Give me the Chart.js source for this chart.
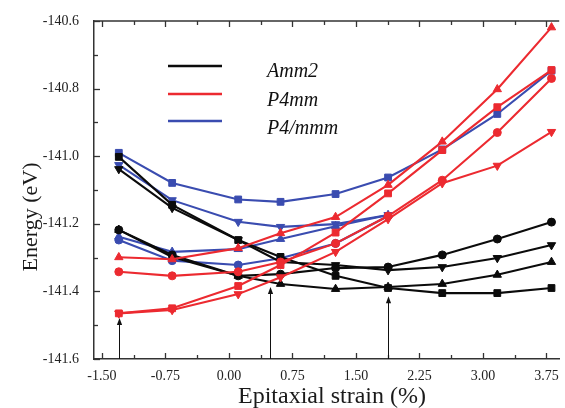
<!DOCTYPE html>
<html>
<head>
<meta charset="utf-8">
<script src="https://cdn.jsdelivr.net/npm/chart.js@4.4.1/dist/chart.umd.min.js"></script>
<style>
html,body{margin:0;padding:0;background:#fff;}
#wrap{width:565px;height:408px;position:relative;}
</style>
</head>
<body>
<div id="wrap"><canvas id="c" width="565" height="408"></canvas></div>
<script>
// ---- data ----
const strain = [-1.30, -0.67, 0.11, 0.61, 1.26, 1.88, 2.52, 3.17, 3.81];

const amm2Square = [-141.002, -141.144, -141.248, -141.298, -141.354, -141.390, -141.405, -141.405, -141.390];
const amm2Circle = [-141.218, -141.292, -141.354, -141.349, -141.331, -141.328, -141.292, -141.245, -141.195];
const amm2Up     = [-141.218, -141.298, -141.354, -141.378, -141.393, -141.387, -141.378, -141.351, -141.313];
const amm2Down   = [-141.038, -141.153, -141.248, -141.313, -141.322, -141.337, -141.328, -141.301, -141.263];

const p4mmSquare = [-141.465, -141.450, -141.384, -141.322, -141.226, -141.110, -140.982, -140.855, -140.745];
const p4mmCircle = [-141.342, -141.354, -141.342, -141.313, -141.258, -141.177, -141.071, -140.930, -140.770];
const p4mmUp     = [-141.299, -141.305, -141.272, -141.228, -141.180, -141.085, -140.957, -140.802, -140.619];
const p4mmDown   = [-141.465, -141.455, -141.408, -141.358, -141.283, -141.186, -141.080, -141.028, -140.928];

const p4mmmSquare = [-140.990, -141.079, -141.128, -141.135, -141.112, -141.063, -140.980, -140.875, -140.747];
const p4mmmCircle = [-141.248, -141.309, -141.322, -141.302, -141.258, -141.177, null, null, null];
const p4mmmUp     = [-141.238, -141.283, -141.275, -141.245, -141.207, -141.174, null, null, null];
const p4mmmDown   = [-141.026, -141.130, -141.194, -141.209, -141.201, -141.174, null, null, null];

const xTickValues = [-1.50, -0.75, 0.00, 0.75, 1.50, 2.25, 3.00, 3.75];
const yTickValues = [-141.6, -141.4, -141.2, -141.0, -140.8, -140.6];

const legendLabels = ['Amm2', 'P4mm', 'P4/mmm'];

// arrows: x position and tip energy (start at bottom axis)
const arrowX   = [-1.30, 0.48, 1.88];
const arrowTip = [-141.479, -141.387, -141.414];

const xTitle = 'Epitaxial strain (%)';
const yTitle = 'Energy (eV)';

// ---- styles ----
const BLACK = '#0b0b0b', RED = '#ec2a30', BLUE = '#3a4cb0';
const AXIS = '#333333';
const SERIF = '"Liberation Serif", "DejaVu Serif", serif';

function pts(arr){ return strain.map((x,i)=>({x:x, y:arr[i]})).filter(p=>p.y!==null); }
function ds(arr, color, style, order){
  const rot = style === 'down' ? 180 : 0;
  const ps = style === 'down' ? 'triangle' : (style === 'up' ? 'triangle' : style);
  const r = style === 'circle' ? 4 : (style === 'rect' ? 4.8 : 4.8);
  return {
    data: pts(arr), borderColor: color, backgroundColor: color,
    borderWidth: 2.1, pointStyle: ps, pointRotation: rot, pointRadius: r,
    pointBorderWidth: 1, pointBackgroundColor: color, pointBorderColor: color,
    tension: 0, fill: false, order: order, clip: false
  };
}

const datasets = [
  ds(p4mmSquare, RED, 'rect', 1), ds(p4mmCircle, RED, 'circle', 1), ds(p4mmUp, RED, 'up', 1), ds(p4mmDown, RED, 'down', 1),
  ds(amm2Square, BLACK, 'rect', 2), ds(amm2Circle, BLACK, 'circle', 2), ds(amm2Up, BLACK, 'up', 2), ds(amm2Down, BLACK, 'down', 2),
  ds(p4mmmSquare, BLUE, 'rect', 3), ds(p4mmmCircle, BLUE, 'circle', 3), ds(p4mmmUp, BLUE, 'up', 3), ds(p4mmmDown, BLUE, 'down', 3)
];

const decorPlugin = {
  id: 'decor',
  afterDraw(chart){
    const ctx = chart.ctx, a = chart.chartArea;
    const xs = chart.scales.x, ys = chart.scales.y;
    ctx.save();
    // top border
    ctx.strokeStyle = AXIS; ctx.lineWidth = 1.5;
    ctx.beginPath(); ctx.moveTo(a.left, a.top); ctx.lineTo(a.right, a.top); ctx.stroke();
    // inward ticks
    ctx.lineWidth = 1.3;
    const xStep = 0.375;
    for (let v = xTickValues[0]; v <= xs.max + 1e-9; v += xStep){
      const major = Math.abs((v - xTickValues[0]) / 0.75 - Math.round((v - xTickValues[0]) / 0.75)) < 1e-6;
      const len = major ? 6 : 4;
      const px = Math.round(xs.getPixelForValue(v)) + 0.5;
      ctx.beginPath(); ctx.moveTo(px, a.bottom); ctx.lineTo(px, a.bottom - len); ctx.stroke();
      ctx.beginPath(); ctx.moveTo(px, a.top); ctx.lineTo(px, a.top + len); ctx.stroke();
    }
    for (let v = ys.min; v <= ys.max + 1e-9; v += 0.1){
      const k = Math.round((v - ys.min) / 0.1);
      const len = (k % 2 === 0) ? 6 : 4;
      const py = Math.round(ys.getPixelForValue(v)) + 0.5;
      ctx.beginPath(); ctx.moveTo(a.left, py); ctx.lineTo(a.left + len, py); ctx.stroke();
    }
    // arrows
    ctx.strokeStyle = '#111'; ctx.fillStyle = '#111'; ctx.lineWidth = 1;
    arrowX.forEach((xv, i) => {
      const px = Math.round(xs.getPixelForValue(xv)) + 0.5;
      const y0 = a.bottom, y1 = ys.getPixelForValue(arrowTip[i]);
      ctx.beginPath(); ctx.moveTo(px, y0); ctx.lineTo(px, y1 + 5); ctx.stroke();
      ctx.beginPath(); ctx.moveTo(px, y1); ctx.lineTo(px - 2.6, y1 + 7); ctx.lineTo(px + 2.6, y1 + 7); ctx.closePath(); ctx.fill();
    });
    // legend
    const legColors = [BLACK, RED, BLUE];
    const lineY = [66, 94, 121];
    const textY = [77, 106, 134];
    ctx.lineWidth = 2.6;
    ctx.font = 'italic 20px ' + SERIF;
    ctx.textBaseline = 'alphabetic'; ctx.textAlign = 'left';
    legendLabels.forEach((t, i) => {
      ctx.strokeStyle = legColors[i];
      ctx.beginPath(); ctx.moveTo(168, lineY[i]); ctx.lineTo(222, lineY[i]); ctx.stroke();
      ctx.fillStyle = '#111';
      ctx.fillText(t, 267, textY[i]);
    });
    // axis titles
    ctx.fillStyle = '#1a1a1a';
    ctx.font = '24px ' + SERIF;
    ctx.textAlign = 'center'; ctx.textBaseline = 'alphabetic';
    ctx.fillText(xTitle, 332, 403);
    ctx.save();
    ctx.translate(37, 217); ctx.rotate(-Math.PI/2);
    ctx.font = '22px ' + SERIF;
    ctx.fillText(yTitle, 0, 0);
    ctx.restore();
    ctx.restore();
  }
};

new Chart(document.getElementById('c'), {
  type: 'line',
  data: { datasets: datasets },
  plugins: [decorPlugin],
  options: {
    responsive: false, animation: false,
    layout: { padding: { top: 21, right: 0, left: 0, bottom: 0 } },
    plugins: { legend: { display: false }, tooltip: { enabled: false }, title: { display: false } },
    scales: {
      x: {
        type: 'linear', min: -1.593, max: 3.901,
        grid: { display: false, drawTicks: false },
        border: { display: true, color: AXIS, width: 1.5 },
        ticks: { color: '#222', font: { family: SERIF, size: 14 }, padding: 9, maxRotation: 0,
                 callback: v => Number(v).toFixed(2) },
        afterBuildTicks: s => { s.ticks = xTickValues.map(v => ({ value: v })); },
        afterFit: s => { s.height = 49; s.paddingLeft = 0; s.paddingRight = 0; }
      },
      y: {
        type: 'linear', min: -141.6, max: -140.6,
        grid: { display: false, drawTicks: false },
        border: { display: true, color: AXIS, width: 1.5 },
        ticks: { color: '#222', font: { family: SERIF, size: 14 }, padding: 15,
                 callback: v => Number(v).toFixed(1) },
        afterBuildTicks: s => { s.ticks = yTickValues.map(v => ({ value: v })); },
        afterFit: s => { s.width = 94; s.paddingTop = 0; s.paddingBottom = 0; }
      }
    }
  }
});
</script>
</body>
</html>
